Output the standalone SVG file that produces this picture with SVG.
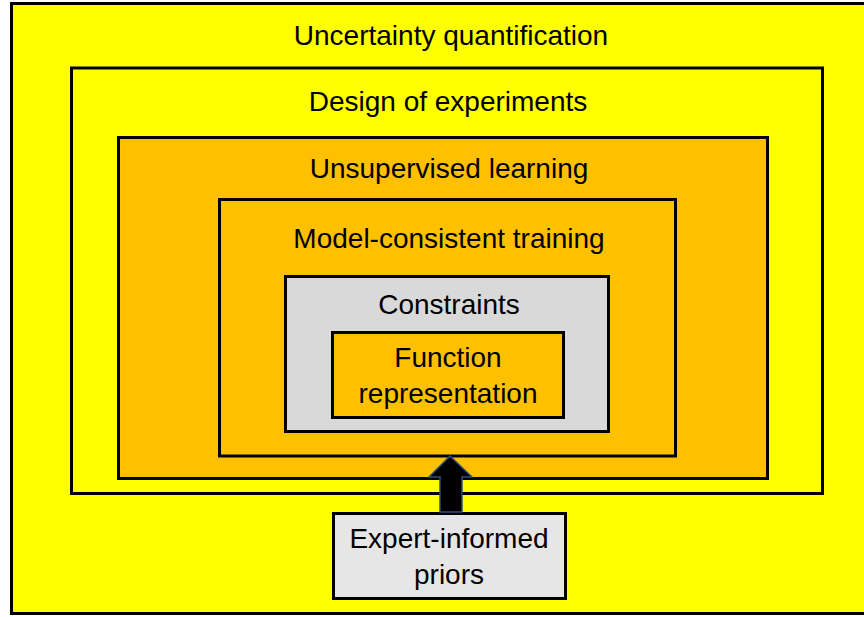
<svg xmlns="http://www.w3.org/2000/svg" width="864" height="617" viewBox="0 0 864 617">
<style>
  .box{stroke:#000;stroke-width:3}
  .y{fill:#FFFF00}
  .o{fill:#FFC000}
  .g{fill:#D9D9D9}
  .e{fill:#E7E6E6}
  text{font-family:"Liberation Sans",Arial,sans-serif;font-size:28px;fill:#000;text-anchor:middle}
</style>
<rect width="864" height="617" fill="#FFFFFF"/>
<g id="uncertainty-quantification">
  <rect class="box y" x="11.5" y="3.5" width="860" height="610"/>
  <text x="451" y="45">Uncertainty quantification</text>
</g>
<g id="design-of-experiments">
  <rect class="box y" x="71.5" y="68" width="751" height="425.5"/>
  <text x="448" y="111">Design of experiments</text>
</g>
<g id="unsupervised-learning">
  <rect class="box o" x="118.5" y="137.5" width="649" height="341"/>
  <text x="449" y="178">Unsupervised learning</text>
</g>
<g id="model-consistent-training">
  <rect class="box o" x="219.5" y="199.5" width="456" height="256.5"/>
  <text x="449" y="248">Model-consistent training</text>
</g>
<g id="constraints">
  <rect class="box g" x="285.5" y="276.5" width="323" height="155"/>
  <text x="449" y="314">Constraints</text>
</g>
<g id="function-representation">
  <rect class="box o" x="332.5" y="332.5" width="231" height="85"/>
  <text x="448" y="367">Function</text>
  <text x="448" y="403">representation</text>
</g>
<g id="expert-informed-priors">
  <rect class="box e" x="333.5" y="513.5" width="232" height="85"/>
  <text x="449" y="548">Expert-informed</text>
  <text x="449" y="584">priors</text>
</g>
<g id="connectors">
  <polygon points="450,456 472,477 462,477 462,512 440,512 440,477 429,477" fill="#000" stroke="#2F4F7F" stroke-width="1.5" stroke-linejoin="miter"/>
</g>
</svg>
